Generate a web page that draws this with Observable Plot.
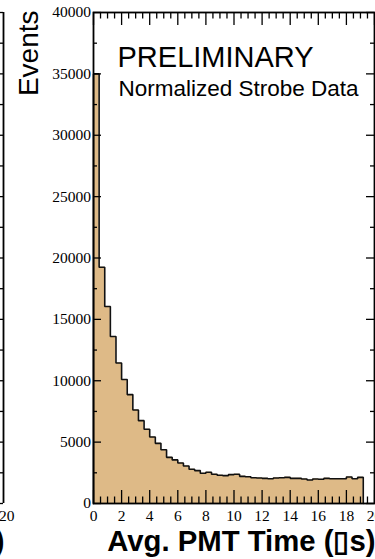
<!DOCTYPE html>
<html><head><meta charset="utf-8">
<script src="https://cdn.jsdelivr.net/npm/d3@7"></script>
<script src="https://cdn.jsdelivr.net/npm/@observablehq/plot@0.6"></script>
<style>
html,body{margin:0;padding:0;background:#fff;}
#wrap{position:relative;width:375px;height:559px;overflow:hidden;background:#fff;}
#wrap svg{position:absolute;left:0;top:0;}
</style></head><body><div id="wrap"></div>
<script>
// ---- data ----
const binWidth = 0.4; // µs
const counts = [
  35000, 19250, 16050, 13600, 11450, 10100, 8870, 7620, 6750, 6050,
  5420, 4900, 4380, 3760, 3550, 3300, 3060, 2790, 2680, 2460,
  2540, 2380, 2300, 2270, 2350, 2380, 2210, 2180, 2100, 2080,
  2050, 2020, 2080, 2100, 2130, 2050, 2050, 2000, 1920, 2000,
  1970, 2050, 2020, 2020, 2020, 2160, 2020, 2130
];
const xTickLabels = [0, 2, 4, 6, 8, 10, 12, 14, 16, 18, 20];
const yTickLabels = [0, 5000, 10000, 15000, 20000, 25000, 30000, 35000, 40000];
const yTitle = "Events";
const xTitle = "Avg. PMT Time (\u25AFs)";
const label1 = "PRELIMINARY";
const label2 = "Normalized Strobe Data";

// ---- derived tables ----
const bins = counts.map((c, i) => ({x1: i * binWidth, x2: (i + 1) * binWidth, count: c}));
const outline = [{x: 0, y: 0}];
bins.forEach(b => { outline.push({x: b.x1, y: b.count}); outline.push({x: b.x2, y: b.count}); });
outline.push({x: bins[bins.length - 1].x2, y: 0});

const W = 375, H = 559, ML = 93, MR = 1, MT = 12, MB = 56;
const xDom = [0, 20], yDom = [0, 40000];
const kx = (W - ML - MR) / (xDom[1] - xDom[0]);
const ky = (H - MT - MB) / (yDom[1] - yDom[0]);

const xMinor = d3.range(0, 20.001, 0.5).filter(v => Math.abs(v / 2 - Math.round(v / 2)) > 1e-6);
const yMinor = d3.range(2500, 40000, 5000);

const ink = "#000";
const tan = "#deba87";
const serif = "'Liberation Serif', 'Times New Roman', serif";
const sans = "'Liberation Sans', Arial, Helvetica, sans-serif";

const main = Plot.plot({
  width: W, height: H,
  marginLeft: ML, marginRight: MR, marginTop: MT, marginBottom: MB,
  x: {domain: xDom, axis: null},
  y: {domain: yDom, axis: null},
  style: {background: "white", overflow: "visible"},
  marks: [
    Plot.area(outline, {x1: "x", y1: 0, y2: "y", fill: tan, curve: "linear"}),
    Plot.line(outline, {x: "x", y: "y", stroke: "#111", strokeWidth: 1.6, strokeLinejoin: "miter"}),
    // x ticks bottom & top
    Plot.ruleX(xTickLabels, {x: d => d, y1: 0, y2: 13 / ky, stroke: ink, strokeWidth: 1.3}),
    Plot.ruleX(xMinor, {x: d => d, y1: 0, y2: 6.5 / ky, stroke: ink, strokeWidth: 1.3}),
    Plot.ruleX(xTickLabels, {x: d => d, y1: 40000 - 13 / ky, y2: 40000, stroke: ink, strokeWidth: 1.3}),
    Plot.ruleX(xMinor, {x: d => d, y1: 40000 - 6.5 / ky, y2: 40000, stroke: ink, strokeWidth: 1.3}),
    // y ticks left & right
    Plot.ruleY(yTickLabels, {y: d => d, x1: 0, x2: 8 / kx, stroke: ink, strokeWidth: 1.3}),
    Plot.ruleY(yMinor, {y: d => d, x1: 0, x2: 4 / kx, stroke: ink, strokeWidth: 1.3}),
    Plot.ruleY(yTickLabels, {y: d => d, x1: 20 - 8 / kx, x2: 20, stroke: ink, strokeWidth: 1.3}),
    Plot.ruleY(yMinor, {y: d => d, x1: 20 - 4 / kx, x2: 20, stroke: ink, strokeWidth: 1.3}),
    Plot.frame({stroke: ink, strokeWidth: 1.8}),
    // tick labels
    Plot.text(xTickLabels, {x: d => d, y: 0, text: d => String(d), dy: 17, lineAnchor: "bottom",
      fontFamily: serif, fontSize: 15.5, fill: ink}),
    Plot.text(yTickLabels, {x: 0, y: d => d, text: d => String(d), dx: -2.5, textAnchor: "end", lineAnchor: "middle",
      fontFamily: serif, fontSize: 15.5, fill: ink}),
    // titles
    Plot.text([yTitle], {frameAnchor: "top-left", text: d => d, rotate: -90, textAnchor: "end", lineAnchor: "bottom",
      dx: 37.5 - ML, dy: -2, fontFamily: sans, fontSize: 28, fill: ink}),
    Plot.text([xTitle], {frameAnchor: "bottom-right", text: d => d, textAnchor: "end", lineAnchor: "bottom",
      dx: 1, dy: 47, fontFamily: sans, fontWeight: "bold", fontSize: 29.3, fill: ink}),
    Plot.text([label1], {frameAnchor: "top-left", text: d => d, textAnchor: "start", lineAnchor: "bottom",
      dx: 117 - ML, dy: 66 - MT, fontFamily: sans, fontSize: 29, fill: ink}),
    Plot.text([label2], {frameAnchor: "top-left", text: d => d, textAnchor: "start", lineAnchor: "bottom",
      dx: 118 - ML, dy: 95 - MT, fontFamily: sans, fontSize: 22.5, fill: ink})
  ]
});

// neighbouring panel fragment at the left edge
const fragTicks = d3.range(0, 40001, 2500);
const frag = Plot.plot({
  width: 20, height: H,
  marginLeft: 0, marginRight: 17, marginTop: MT, marginBottom: MB,
  x: {domain: [0, 1], axis: null},
  y: {domain: yDom, axis: null},
  style: {background: "transparent", overflow: "visible"},
  marks: [
    Plot.ruleX([1], {x: d => d, y1: 0, y2: 40000, stroke: ink, strokeWidth: 1.8}),
    Plot.ruleY(fragTicks, {y: d => d, x1: 0, x2: 1, stroke: ink, strokeWidth: 1.3}),
    Plot.text(["20"], {x: 1, y: 0, text: d => d, dx: 3.3, dy: 17, lineAnchor: "bottom",
      fontFamily: serif, fontSize: 15.5, fill: ink}),
    Plot.text([")"], {x: 1, y: 0, text: d => d, dx: 1, dy: 47, textAnchor: "end", lineAnchor: "bottom",
      fontFamily: sans, fontWeight: "bold", fontSize: 29.3, fill: ink})
  ]
});

const wrap = document.getElementById("wrap");
wrap.appendChild(main);
wrap.appendChild(frag);
</script>
</body></html>
